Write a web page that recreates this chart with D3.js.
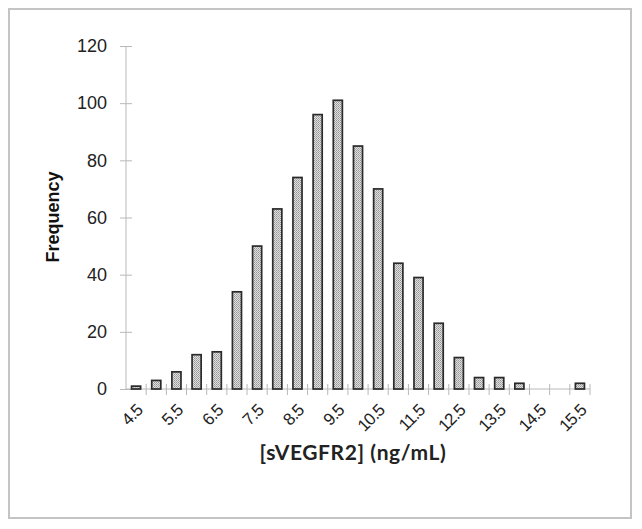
<!DOCTYPE html>
<html>
<head>
<meta charset="utf-8">
<script src="https://cdn.jsdelivr.net/npm/d3@7"></script>
<style>
  html, body { margin: 0; padding: 0; background: #fff; }
  svg { display: block; }
</style>
</head>
<body>
<svg id="chart" width="642" height="529"></svg>
<script>
// Data
const categories = ["4.5","5.0","5.5","6.0","6.5","7.0","7.5","8.0","8.5","9.0","9.5","10.0","10.5","11.0","11.5","12.0","12.5","13.0","13.5","14.0","14.5","15.0","15.5"];
const frequencies = [1,3,6,12,13,34,50,63,74,96,101,85,70,44,39,23,11,4,4,2,0,0,2];
const xTickLabels = ["4.5","5.5","6.5","7.5","8.5","9.5","10.5","11.5","12.5","13.5","14.5","15.5"];
const yTicks = [0,20,40,60,80,100,120];

const svg = d3.select("#chart");

// outer border
svg.append("rect")
  .attr("x", 9).attr("y", 9).attr("width", 622).attr("height", 509)
  .attr("fill", "none").attr("stroke", "#c4c4c4").attr("stroke-width", 2);

// pattern
const defs = svg.append("defs");
const pat = defs.append("pattern").attr("id", "dots")
  .attr("patternUnits", "userSpaceOnUse").attr("width", 2).attr("height", 2);
pat.append("rect").attr("width", 2).attr("height", 2).attr("fill", "#e0e0e0");
pat.append("rect").attr("width", 1).attr("height", 1).attr("fill", "#959595");
pat.append("rect").attr("x", 1).attr("y", 1).attr("width", 1).attr("height", 1).attr("fill", "#aaaaaa");

const x = d3.scaleBand().domain(categories).range([126, 590]).paddingInner(0.55).paddingOuter(0.275);
const y = d3.scaleLinear().domain([0, 120]).range([389, 46]);

const axisColor = "#b8b8b8";
const textColor = "#222";

// Y axis
const yAxis = svg.append("g").attr("transform", "translate(126,0)")
  .call(d3.axisLeft(y).tickValues(yTicks).tickSize(6).tickPadding(13));
yAxis.select(".domain").attr("stroke", axisColor).attr("d", `M0,${y(0)}V${y(120)}`);
yAxis.selectAll(".tick line").attr("stroke", axisColor).attr("x1", -6).attr("x2", 6);
yAxis.selectAll(".tick text").attr("fill", textColor)
  .style("font-family", "Liberation Sans, Arial, sans-serif").style("font-size", "18px");

// X axis (ticks between categories)
const step = x.step();
const edges = d3.range(categories.length + 1).map(i => x.range()[0] + i * step);
const xg = svg.append("g");
xg.append("line").attr("x1", 126).attr("x2", 590).attr("y1", y(0)).attr("y2", y(0))
  .attr("stroke", axisColor);
xg.selectAll("line.tk").data(edges.slice(1)).join("line").attr("class", "tk")
  .attr("x1", d => d).attr("x2", d => d).attr("y1", y(0) - 5).attr("y2", y(0) + 6)
  .attr("stroke", axisColor);

// bars
svg.append("g").selectAll("rect").data(categories.map((c, i) => ({c, v: frequencies[i]})))
  .join("rect")
  .filter(d => d.v > 0)
  .attr("x", d => x(d.c))
  .attr("y", d => y(d.v))
  .attr("width", x.bandwidth())
  .attr("height", d => y(0) - y(d.v))
  .attr("fill", "url(#dots)")
  .attr("stroke", "#2a2a2a")
  .attr("stroke-width", 1.7);

// X tick labels
svg.append("g").selectAll("text").data(xTickLabels).join("text")
  .attr("transform", d => `translate(${x(d) + x.bandwidth() / 2 - 1},${y(0) + 14}) rotate(-45)`)
  .attr("text-anchor", "end")
  .attr("dy", "0.7em")
  .attr("fill", textColor)
  .style("font-family", "Liberation Sans, Arial, sans-serif")
  .style("font-size", "17px")
  .style("letter-spacing", "-0.8px")
  .text(d => d);

// axis titles
svg.append("text")
  .attr("transform", `translate(59,217) rotate(-90)`)
  .attr("text-anchor", "middle")
  .attr("fill", "#111")
  .style("font-family", "Liberation Sans, Arial, sans-serif")
  .style("font-weight", "bold")
  .style("font-size", "18px")
  .text("Frequency");

svg.append("text")
  .attr("x", 353).attr("y", 460)
  .attr("text-anchor", "middle")
  .attr("fill", "#222")
  .style("font-family", "Lato, 'Open Sans', sans-serif")
  .style("font-weight", "bold")
  .style("font-size", "21px")
  .style("letter-spacing", "0.6px")
  .text("[sVEGFR2] (ng/mL)");
</script>
</body>
</html>
